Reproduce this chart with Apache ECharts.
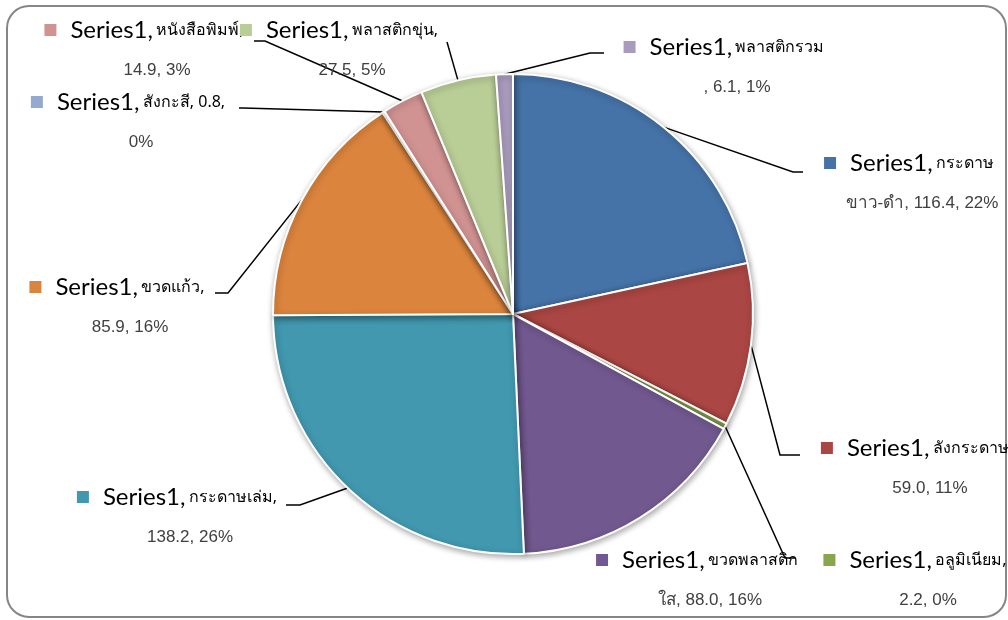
<!DOCTYPE html>
<html>
<head>
<meta charset="utf-8">
<script src="https://cdn.jsdelivr.net/npm/echarts@6/dist/echarts.min.js"></script>
<style>html,body{margin:0;padding:0;background:#fff}#c{width:1008px;height:620px}</style>
</head>
<body>
<div id="c"></div>
<script>
const seriesName = 'Series1';
const categories = ['กระดาษขาว-ดำ','ลังกระดาษ','อลูมิเนียม','ขวดพลาสติกใส','กระดาษเล่ม','ขวดแก้ว','สังกะสี','หนังสือพิมพ์','พลาสติกขุ่น','พลาสติกรวม'];
const values = [116.4, 59.0, 2.2, 88.0, 138.2, 85.9, 0.8, 14.9, 27.5, 6.1];
const colors = ['#4572A7','#AA4643','#89A54E','#71588F','#4198AF','#DB843D','#93A9CF','#D19392','#B9CD96','#A99BBD'];
// number of characters of the "name, value, pct%" tail kept on the first line
const breakAt = [6, 10, 11, 10, 11, 8, 13, 13, 12, 10];
// label block anchor (center x, top y)
const labelPos = [[922,143],[930,428],[928,540],[710,540],[190,477],[130,267],[141,82],[157,10],[352,10],[737,27]];
// leader line elbow + end points (null = no line)
const lineEnds = [[[793,172],[803,172]],[[780,455],[800,455]],[[785,558],[795,558]],null,[[300,505],[286,505]],[[228,293],[215,293]],[[243,108],[239,108]],[[265,41],[254,41]],[[447,42],[447,42]],[[590,53],[604,53]]];

const total = values.reduce((a,b)=>a+b,0);
const rich = {
  s:{fontFamily:'Lato, "Open Sans", sans-serif',fontSize:24,color:'#000',lineHeight:40},
  n:{fontFamily:'"Noto Sans", "DejaVu Sans", sans-serif',fontSize:16,color:'#000',lineHeight:40},
  v:{fontFamily:'"Liberation Sans", Arial, sans-serif',fontSize:17,color:'#404040',lineHeight:40},
  sp:{width:26,lineHeight:40}
};
colors.forEach((c,i)=>{ rich['mk'+i] = {width:12,height:12,backgroundColor:c,lineHeight:40}; rich['g'+i]={width:14,lineHeight:40}; });

const data = categories.map((n,i)=>({
  name:n, value:values[i],
  itemStyle:{color:colors[i]},
  labelLine:{show: lineEnds[i] !== null}
}));

const chart = echarts.init(document.getElementById('c'));
chart.setOption({
  animation:false,
  graphic:[{type:'rect',shape:{x:7,y:6,width:999,height:611,r:22},style:{fill:'none',stroke:'#868686',lineWidth:2},z:-1}],
  series:[{
    type:'pie',
    center:[513,314],
    radius:240,
    startAngle:90,
    clockwise:true,
    avoidLabelOverlap:false,
    data:data,
    itemStyle:{borderColor:'#fff',borderWidth:2,shadowBlur:6,shadowColor:'rgba(0,0,0,0.35)',shadowOffsetX:1,shadowOffsetY:2},
    label:{
      show:true,
      position:'outside',
      formatter:function(p){
        const i = p.dataIndex;
        const pct = Math.round(p.value/total*100);
        const tail = p.name + ', ' + p.value.toFixed(1) + ', ' + pct + '%';
        const l1 = tail.slice(0, breakAt[i]);
        const l2 = tail.slice(breakAt[i]).replace(/^ /,'');
        return '{mk'+i+'|}{g'+i+'|}{s|'+seriesName+',} {n|'+l1+'}{sp|}\n{v|'+l2+'}';
      },
      rich:rich
    },
    labelLine:{show:true,lineStyle:{color:'#000',width:1.5},length:10,length2:10},
    labelLayout:function(p){
      const i = p.dataIndex;
      const res = {x:labelPos[i][0], y:labelPos[i][1], align:'center', verticalAlign:'top'};
      if (lineEnds[i] && p.labelLinePoints) {
        res.labelLinePoints = [p.labelLinePoints[0], lineEnds[i][0], lineEnds[i][1]];
      }
      return res;
    }
  }]
});
</script>
</body>
</html>
